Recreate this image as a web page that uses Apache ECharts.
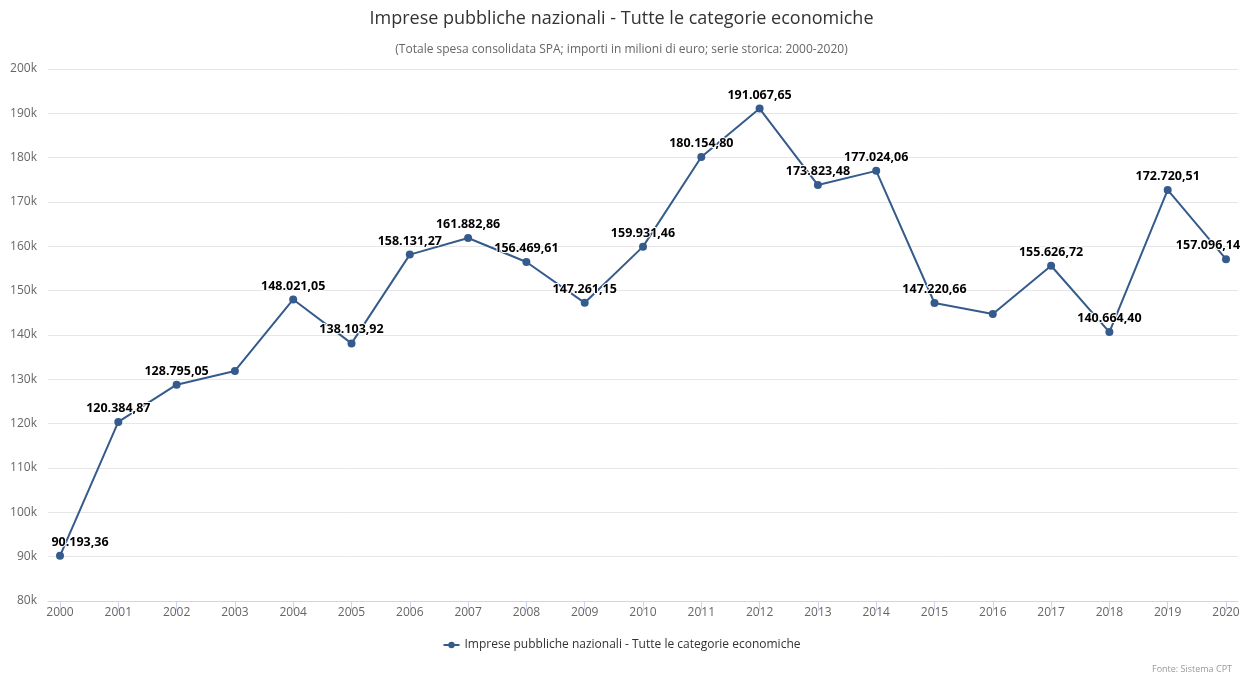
<!DOCTYPE html>
<html><head><meta charset="utf-8">
<script src="https://cdn.jsdelivr.net/npm/echarts@6/dist/echarts.min.js"></script>
<style>html,body{margin:0;padding:0;background:#fff}#c{width:1243px;height:673px}</style>
</head><body><div id="c"></div>
<script>
const years = ['2000','2001','2002','2003','2004','2005','2006','2007','2008','2009','2010','2011','2012','2013','2014','2015','2016','2017','2018','2019','2020'];
const values = [90193.36,120384.87,128795.05,131900,148021.05,138103.92,158131.27,161882.86,156469.61,147261.15,159931.46,180154.80,191067.65,173823.48,177024.06,147220.66,144730,155626.72,140664.40,172720.51,157096.14];
const hiddenLabels = ['2003','2016'];
const yTicks = [80000,90000,100000,110000,120000,130000,140000,150000,160000,170000,180000,190000,200000];
const seriesName = 'Imprese pubbliche nazionali - Tutte le categorie economiche';

function fmt(v){
  const parts = v.toFixed(2).split('.');
  return parts[0].replace(/\B(?=(\d{3})+(?!\d))/g,'.') + ',' + parts[1];
}
const FONT = '"Open Sans", "DejaVu Sans", sans-serif';
const data = values.map((v,i)=>{
  const d = {value:[i,v]};
  if (hiddenLabels.includes(years[i])) d.label = {show:false};
  if (i===0) d.label = {offset:[20,0]};
  if (i===years.length-1) d.label = {offset:[-18,0]};
  return d;
});
const chart = echarts.init(document.getElementById('c'));
chart.setOption({
  animation:false,
  textStyle:{fontFamily:FONT},
  title:[{
    text:'Imprese pubbliche nazionali - Tutte le categorie economiche',
    left:'center', top:5,
    textStyle:{fontSize:18,fontWeight:'normal',color:'#333',fontFamily:FONT}
  },{
    text:'(Totale spesa consolidata SPA; importi in milioni di euro; serie storica: 2000-2020)',
    left:'center', top:39,
    textStyle:{fontSize:12,fontWeight:'normal',color:'#666',fontFamily:FONT}
  },{
    text:'Fonte: Sistema CPT', right:6, top:660,
    textStyle:{fontSize:9,fontWeight:'normal',color:'#999',fontFamily:FONT}
  }],
  legend:{
    bottom:17, left:'center',
    itemWidth:16, itemHeight:8, itemGap:5,
    textStyle:{fontSize:12,color:'#333',fontWeight:'normal',fontFamily:FONT},
    data:[seriesName]
  },
  grid:{left:48,right:5,top:69,bottom:72,containLabel:false},
  xAxis:{
    type:'value',
    min:-0.206, max:20.206,
    axisLine:{show:true,lineStyle:{color:'#ccd6eb'}},
    axisTick:{show:true,length:10,lineStyle:{color:'#ccd6eb'},customValues:years.map((y,i)=>i)},
    axisLabel:{color:'#666',fontSize:12,margin:6,customValues:years.map((y,i)=>i),formatter:v=>years[Math.round(v)]},
    splitLine:{show:false}
  },
  yAxis:{
    type:'value', min:yTicks[0], max:yTicks[yTicks.length-1], interval:10000,
    axisLine:{show:false}, axisTick:{show:false},
    axisLabel:{color:'#666',fontSize:12,margin:11,formatter:v=>(v/1000)+'k'},
    splitLine:{lineStyle:{color:'#e6e6e6'}}
  },
  series:[{
    name:seriesName,
    type:'line',
    data:data,
    symbol:'circle', symbolSize:8,
    itemStyle:{color:'#355b8c'},
    lineStyle:{color:'#355b8c',width:2},
    label:{
      show:true, position:'top', distance:3,
      formatter:p=>fmt(p.value[1]),
      fontSize:12.5, fontWeight:'bold', color:'#000',
      textBorderColor:'#fff', textBorderWidth:2, fontFamily:FONT
    }
  }]
});
</script></body></html>
